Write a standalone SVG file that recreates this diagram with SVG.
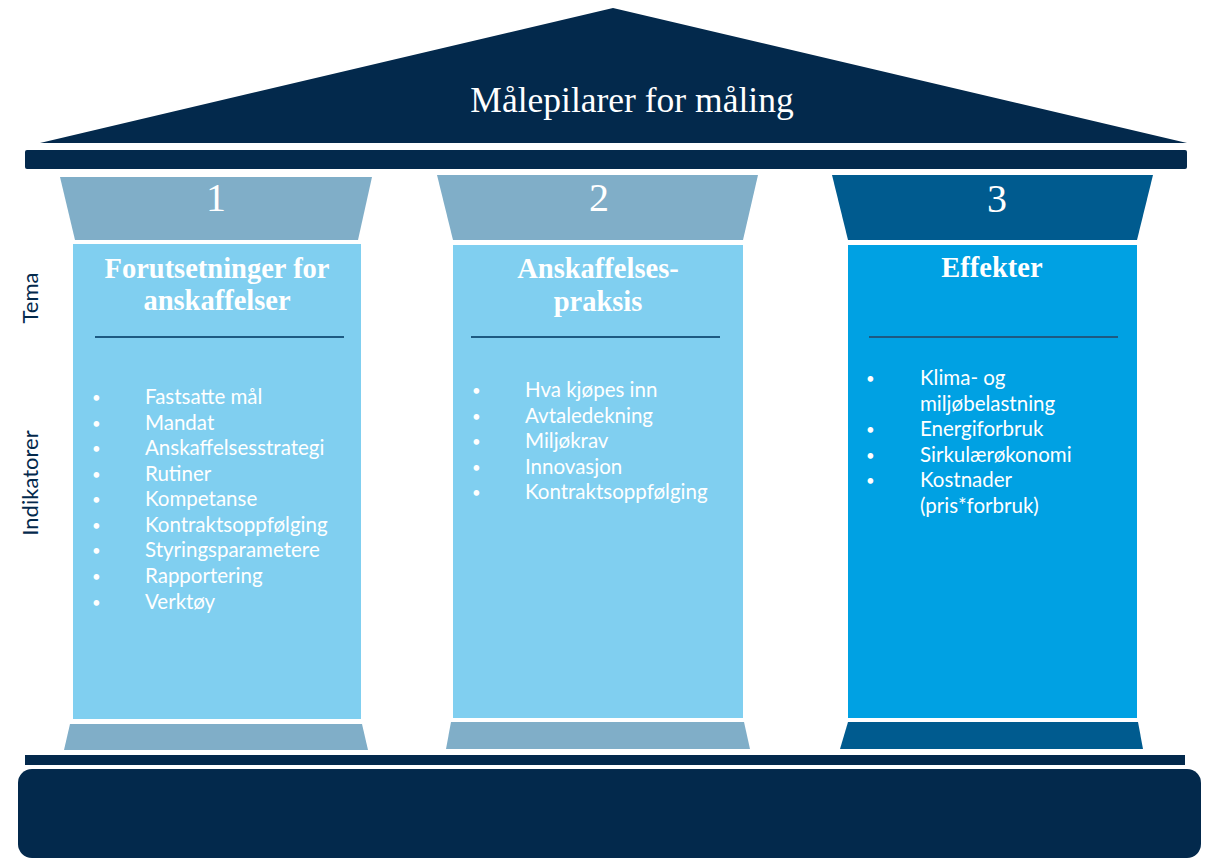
<svg xmlns="http://www.w3.org/2000/svg" width="1211" height="859" viewBox="0 0 1211 859">
<style>
.navy{fill:#03294c}
.capL{fill:#80aec8}
.capD{fill:#005b8f}
.shaftL{fill:#80cff0}
.shaftD{fill:#00a1e3}
.num{font-family:"Liberation Serif",serif;font-size:40px;fill:#fff;text-anchor:middle}
.title{font-family:"Liberation Serif",serif;font-weight:bold;font-size:28.5px;fill:#fff;text-anchor:middle}
.item{font-family:Lato,"Liberation Sans",sans-serif;font-size:20.5px;fill:#fff}
.bul{font-family:Lato,"Liberation Sans",sans-serif;font-size:15px;fill:#fff}
.side{font-family:Lato,"Liberation Sans",sans-serif;font-size:22px;fill:#03294c;text-anchor:middle}
.rule{stroke:#1d5a82;stroke-width:2}
</style>
<g id="roof">
<polygon class="navy" points="40,143 613,8 1187,143"/>
<text x="632" y="112" font-family="Liberation Serif, serif" font-size="35.5" fill="#fff" text-anchor="middle">Målepilarer for måling</text>
<rect class="navy" x="25" y="150" width="1162" height="19" rx="2"/>
</g>
<g id="labels">
<text class="side" transform="translate(38,298) rotate(-90)">Tema</text>
<text class="side" transform="translate(38,483) rotate(-90)">Indikatorer</text>
</g>
<g id="pillar1">
<polygon class="capL" points="60,177 372,177 358,240 75,240"/>
<text class="num" x="216" y="211">1</text>
<rect class="shaftL" x="73" y="244" width="288" height="475"/>
<text class="title" x="217" y="278">Forutsetninger for</text>
<text class="title" x="217" y="310">anskaffelser</text>
<line class="rule" x1="95" y1="337" x2="344" y2="337"/>
<g class="bul">
<text x="92" y="403">•</text><text x="92" y="429">•</text><text x="92" y="454">•</text>
<text x="92" y="480">•</text><text x="92" y="505">•</text><text x="92" y="531">•</text>
<text x="92" y="556">•</text><text x="92" y="582">•</text><text x="92" y="608">•</text>
</g>
<g class="item">
<text x="145" y="404">Fastsatte mål</text>
<text x="145" y="430">Mandat</text>
<text x="145" y="455">Anskaffelsesstrategi</text>
<text x="145" y="481">Rutiner</text>
<text x="145" y="506">Kompetanse</text>
<text x="145" y="532">Kontraktsoppfølging</text>
<text x="145" y="557">Styringsparametere</text>
<text x="145" y="583">Rapportering</text>
<text x="145" y="609">Verktøy</text>
</g>
<polygon class="capL" points="70,724 362,724 368,750 64,750"/>
</g>
<g id="pillar2">
<polygon class="capL" points="437,175 758,175 743,240 453,240"/>
<text class="num" x="599" y="211">2</text>
<rect class="shaftL" x="453" y="245" width="290" height="473"/>
<text class="title" x="598" y="278">Anskaffelses-</text>
<text class="title" x="598" y="311">praksis</text>
<line class="rule" x1="471" y1="337" x2="720" y2="337"/>
<g class="bul">
<text x="472" y="396">•</text><text x="472" y="422">•</text><text x="472" y="447">•</text>
<text x="472" y="473">•</text><text x="472" y="498">•</text>
</g>
<g class="item">
<text x="525" y="397">Hva kjøpes inn</text>
<text x="525" y="423">Avtaledekning</text>
<text x="525" y="448">Miljøkrav</text>
<text x="525" y="474">Innovasjon</text>
<text x="525" y="499">Kontraktsoppfølging</text>
</g>
<polygon class="capL" points="451,722 744,722 750,749 446,749"/>
</g>
<g id="pillar3">
<polygon class="capD" points="832,175 1153,175 1137,240 848,240"/>
<text class="num" x="997" y="212">3</text>
<rect class="shaftD" x="848" y="245" width="289" height="473"/>
<text class="title" x="992" y="277">Effekter</text>
<line class="rule" x1="869" y1="337" x2="1118" y2="337"/>
<g class="bul">
<text x="866" y="384">•</text><text x="866" y="435">•</text><text x="866" y="461">•</text><text x="866" y="486">•</text>
</g>
<g class="item">
<text x="920" y="385">Klima- og</text>
<text x="920" y="411">miljøbelastning</text>
<text x="920" y="436">Energiforbruk</text>
<text x="920" y="462">Sirkulærøkonomi</text>
<text x="920" y="487">Kostnader</text>
<text x="920" y="513">(pris*forbruk)</text>
</g>
<polygon class="capD" points="848,722 1138,722 1143,749 840,749"/>
</g>
<g id="base">
<rect class="navy" x="25" y="755" width="1160" height="10"/>
<rect class="navy" x="18" y="769" width="1183" height="89" rx="14"/>
</g>
</svg>
